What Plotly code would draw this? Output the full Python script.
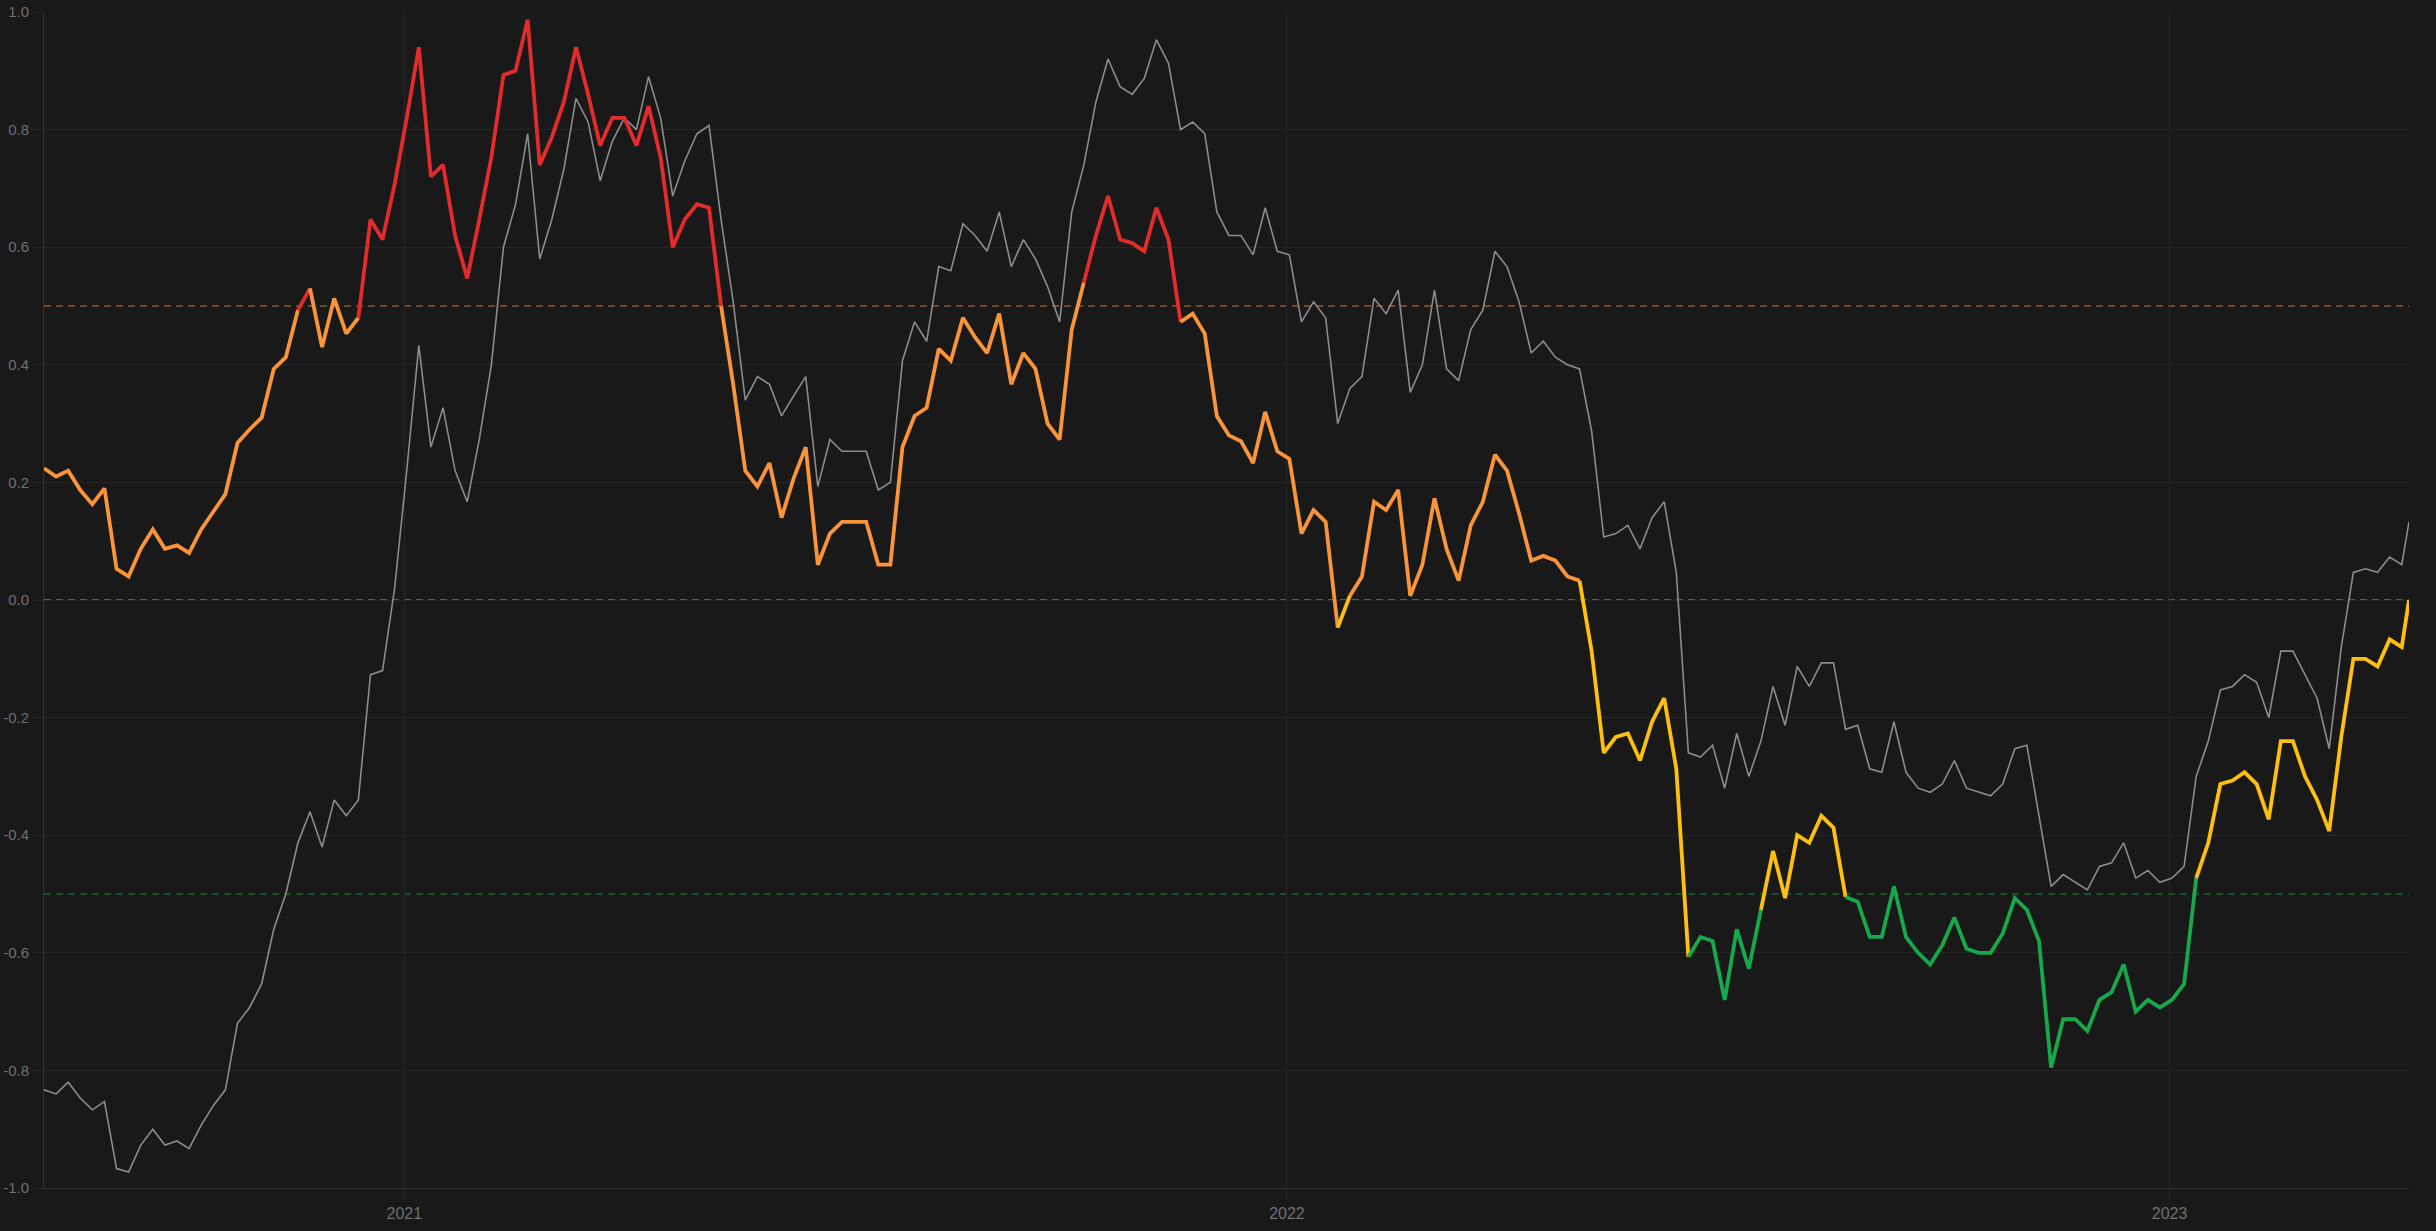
import pandas as pd
import plotly.graph_objects as go

# ---- data (sampled every 5 days from 2020-08-05, last point 2023-04-10) ----
start_date = "2020-08-05"
n_regular = 196
end_date = "2023-04-10"

signal = [
    0.224, 0.21, 0.22, 0.187, 0.163, 0.19, 0.053, 0.04, 0.087, 0.12,
    0.087, 0.093, 0.08, 0.12, 0.15, 0.18, 0.267, 0.29, 0.31, 0.393,
    0.413, 0.493, 0.53, 0.43, 0.513, 0.453, 0.48, 0.647, 0.613, 0.707,
    0.82, 0.94, 0.72, 0.74, 0.62, 0.547, 0.647, 0.753, 0.893, 0.9,
    0.987, 0.74, 0.787, 0.847, 0.94, 0.86, 0.773, 0.82, 0.82, 0.773,
    0.84, 0.753, 0.6, 0.647, 0.673, 0.667, 0.5, 0.367, 0.22, 0.193,
    0.233, 0.14, 0.207, 0.26, 0.06, 0.113, 0.133, 0.133, 0.133, 0.06,
    0.06, 0.26, 0.313, 0.327, 0.427, 0.407, 0.48, 0.447, 0.42, 0.487,
    0.367, 0.42, 0.393, 0.3, 0.273, 0.46, 0.54, 0.62, 0.687, 0.613,
    0.607, 0.593, 0.667, 0.613, 0.473, 0.487, 0.453, 0.313, 0.28, 0.27,
    0.233, 0.32, 0.253, 0.24, 0.113, 0.153, 0.133, -0.047, 0.007, 0.04,
    0.167, 0.153, 0.187, 0.007, 0.06, 0.173, 0.087, 0.033, 0.127, 0.167,
    0.247, 0.22, 0.147, 0.067, 0.075, 0.067, 0.04, 0.033, -0.087, -0.26,
    -0.233, -0.227, -0.273, -0.207, -0.167, -0.287, -0.607, -0.573, -0.58, -0.68,
    -0.56, -0.627, -0.527, -0.427, -0.507, -0.4, -0.413, -0.367, -0.387, -0.505,
    -0.513, -0.573, -0.573, -0.487, -0.573, -0.6, -0.62, -0.587, -0.54, -0.593,
    -0.6, -0.6, -0.567, -0.507, -0.527, -0.58, -0.795, -0.713, -0.713, -0.733,
    -0.68, -0.667, -0.62, -0.7, -0.68, -0.693, -0.68, -0.653, -0.473, -0.413,
    -0.313, -0.307, -0.293, -0.313, -0.373, -0.24, -0.24, -0.3, -0.34, -0.393,
    -0.233, -0.1, -0.1, -0.113, -0.067, -0.08, 0.0,
]

reference = [
    -0.833, -0.84, -0.82, -0.847, -0.867, -0.853, -0.967, -0.973, -0.927, -0.9,
    -0.927, -0.92, -0.933, -0.893, -0.86, -0.833, -0.72, -0.693, -0.653, -0.56,
    -0.5, -0.413, -0.36, -0.42, -0.34, -0.367, -0.34, -0.127, -0.12, 0.02,
    0.22, 0.433, 0.26, 0.327, 0.22, 0.167, 0.273, 0.4, 0.6, 0.673,
    0.793, 0.58, 0.647, 0.733, 0.853, 0.813, 0.713, 0.78, 0.82, 0.8,
    0.89, 0.82, 0.687, 0.747, 0.793, 0.807, 0.647, 0.507, 0.34, 0.38,
    0.367, 0.313, 0.347, 0.38, 0.193, 0.273, 0.253, 0.253, 0.253, 0.187,
    0.2, 0.407, 0.473, 0.44, 0.567, 0.56, 0.64, 0.62, 0.593, 0.66,
    0.567, 0.613, 0.58, 0.533, 0.473, 0.66, 0.74, 0.847, 0.92, 0.873,
    0.86, 0.887, 0.953, 0.913, 0.8, 0.813, 0.793, 0.66, 0.62, 0.62,
    0.587, 0.667, 0.593, 0.587, 0.473, 0.507, 0.48, 0.3, 0.36, 0.38,
    0.513, 0.487, 0.527, 0.353, 0.4, 0.527, 0.393, 0.373, 0.46, 0.493,
    0.593, 0.567, 0.507, 0.42, 0.44, 0.413, 0.4, 0.393, 0.287, 0.107,
    0.113, 0.127, 0.087, 0.14, 0.167, 0.047, -0.26, -0.267, -0.247, -0.32,
    -0.227, -0.3, -0.24, -0.147, -0.213, -0.113, -0.147, -0.107, -0.107, -0.22,
    -0.213, -0.287, -0.293, -0.207, -0.293, -0.32, -0.327, -0.313, -0.273, -0.32,
    -0.327, -0.333, -0.313, -0.253, -0.247, -0.367, -0.487, -0.467, -0.48, -0.493,
    -0.453, -0.447, -0.413, -0.473, -0.46, -0.48, -0.473, -0.453, -0.3, -0.24,
    -0.153, -0.147, -0.127, -0.14, -0.2, -0.087, -0.087, -0.127, -0.167, -0.253,
    -0.08, 0.047, 0.053, 0.047, 0.073, 0.06, 0.133,
]

band_levels = [0.5, 0.0, -0.5]
band_colors = ["#e22b2b", "#f9943b", "#fdc010", "#16a84a"]  # >0.5, 0..0.5, -0.5..0, < -0.5
level_line_colors = ["#74492a", "#6e5c1c", "#1f4b2e"]
year_ticks = ["2021-01-01", "2022-01-01", "2023-01-01"]
year_labels = ["2021", "2022", "2023"]
y_ticks = [1.0, 0.8, 0.6, 0.4, 0.2, 0.0, -0.2, -0.4, -0.6, -0.8, -1.0]

dates = list(pd.date_range(start_date, periods=n_regular, freq="5D")) + [pd.Timestamp(end_date)]

BG = "#191919"
GRID = "#272727"
TXT = "#707070"


def band_color(v):
    if v > band_levels[0]:
        return band_colors[0]
    if v >= band_levels[1]:
        return band_colors[1]
    if v >= band_levels[2]:
        return band_colors[2]
    return band_colors[3]


fig = go.Figure()

fig.add_trace(go.Scatter(
    x=dates, y=reference, mode="lines",
    line=dict(color="#8c8c8c", width=1.6),
    showlegend=False, hoverinfo="skip",
))

# colored signal: group consecutive segments of the same band
seg_cols = [band_color((signal[i] + signal[i + 1]) / 2) for i in range(len(signal) - 1)]
i = 0
while i < len(seg_cols):
    j = i
    while j + 1 < len(seg_cols) and seg_cols[j + 1] == seg_cols[i]:
        j += 1
    fig.add_trace(go.Scatter(
        x=dates[i:j + 2], y=signal[i:j + 2], mode="lines",
        line=dict(color=seg_cols[i], width=3.8),
        showlegend=False, hoverinfo="skip",
    ))
    i = j + 1

for lvl, col in zip(band_levels, level_line_colors):
    fig.add_shape(type="line", xref="paper", x0=0, x1=1, yref="y", y0=lvl, y1=lvl,
                  line=dict(color=col, width=2, dash="7px,5px"), layer="below")

fig.update_layout(
    width=2436, height=1231,
    margin=dict(l=44, r=27, t=12, b=43),
    paper_bgcolor=BG, plot_bgcolor=BG,
    font=dict(family="Liberation Sans, Arial, sans-serif", color=TXT, size=15),
    xaxis=dict(
        range=[dates[0], dates[-1]],
        tickvals=year_ticks, ticktext=year_labels,
        showgrid=True, gridcolor=GRID, gridwidth=1,
        ticks="outside", ticklen=11, tickcolor=GRID,
        showline=True, linecolor="#333333", linewidth=1,
        zeroline=False, tickfont=dict(size=16, color=TXT),
        automargin=False,
    ),
    yaxis=dict(
        range=[-1.0, 1.0],
        tickvals=y_ticks, ticktext=[f"{v:.1f}" for v in y_ticks],
        showgrid=True, gridcolor=GRID, gridwidth=1,
        ticks="outside", ticklen=11, tickcolor=GRID,
        showline=True, linecolor="#333333", linewidth=1,
        zeroline=False, tickfont=dict(size=15, color=TXT),
        automargin=False,
    ),
)

fig.write_html(
    "out.html",
    config={"displayModeBar": False},
    post_script="document.body.style.margin='0';document.body.style.overflow='hidden';document.body.style.background='#191919';",
)
